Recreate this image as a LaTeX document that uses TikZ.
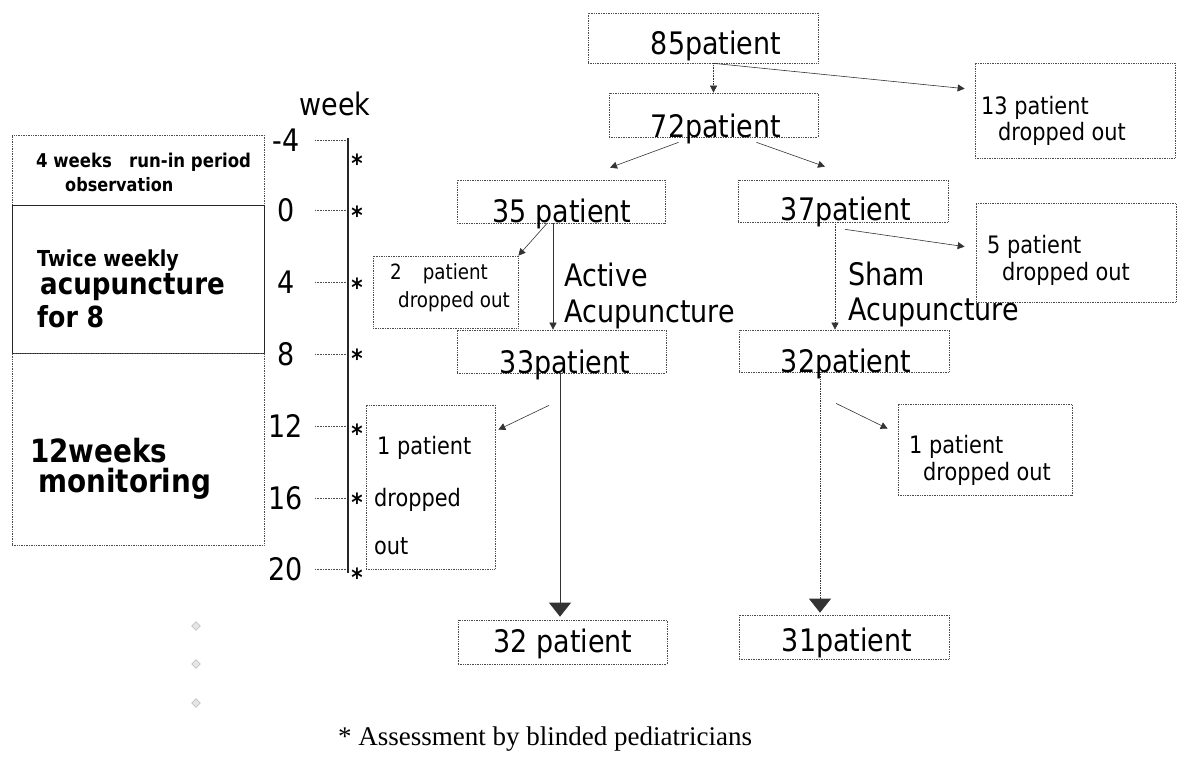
\documentclass[tikz,border=0pt]{standalone}
\usepackage{fontspec}
\setmainfont{DejaVu Sans}[FakeStretch=0.87]
\newfontfamily\notefont{Liberation Serif}
\usepackage{tikz}
\usetikzlibrary{shapes,arrows,arrows.meta,positioning,calc}
\newcommand{\fsz}[1]{\fontsize{#1}{#1}\selectfont}

\begin{document}
\begin{tikzpicture}[x=1pt,y=-1pt,
    pbox/.style={draw=black!70, densely dotted, line width=0.7pt, inner sep=0pt},
    txt/.style={inner sep=0pt, anchor=base},
    ltxt/.style={inner sep=0pt, anchor=base west},
    link/.style={draw=black!80, line width=0.6pt, -{Triangle[length=7pt,width=7pt]}},
    biglink/.style={draw=black!80, line width=0.7pt, -{Triangle[length=14pt,width=22pt]}},
    wtick/.style={draw=black!70, densely dotted, line width=0.6pt}]
    \useasboundingbox (0,0) rectangle (1185,757);

    % Phases on the left
    \node[pbox, minimum width=252pt, minimum height=70pt] (runin) at (138,170) {};
    \node[draw=black!85, line width=0.8pt, inner sep=0pt, minimum width=252pt, minimum height=148pt] (treat) at (138,279) {};
    \node[pbox, minimum width=252pt, minimum height=192pt] (monit) at (138,449) {};
    \node[ltxt, font=\fsz{19}\bfseries] (runin1) at (36,167) {4 weeks\ \ \ run-in period};
    \node[ltxt, font=\fsz{18.5}\bfseries] (runin2) at (65,191) {observation};
    \node[ltxt, font=\fsz{22}\bfseries] (treat1) at (37,266) {Twice weekly};
    \node[ltxt, font=\fsz{30}\bfseries] (treat2) at (40,294) {acupuncture};
    \node[ltxt, font=\fsz{29}\bfseries] (treat3) at (37,327) {for 8};
    \node[ltxt, font=\fsz{32}\bfseries] (monit1) at (30,462) {12weeks};
    \node[ltxt, font=\fsz{32}\bfseries] (monit2) at (38,492) {monitoring};

    % Week scale
    \node[txt, font=\fsz{31}] (week) at (335,116) {week};
    \foreach \w/\y in {-4/140, 0/210, 4/282, 8/354, 12/426, 16/498, 20/569} {
        \node[txt, font=\fsz{31}] (w\w) at (286,\y+11) {\w};
        \draw[wtick] (315,\y) -- (347,\y);
    }
    \draw[line width=2.2pt, black!85] (348,138) -- (348,573);
    \foreach \y [count=\i] in {158,210,282,353,428,497,572}
        \node[txt, font=\fsz{25}\bfseries] (star\i) at (357,\y+14) {*};

    % Patient flow
    \node[pbox, minimum width=230pt, minimum height=50pt] (n85) at (703,38) {};
    \node[txt, font=\fsz{31}] (l85) at (716,55) {85patient};
    \node[pbox, minimum width=209pt, minimum height=44pt] (n72) at (713.5,115) {};
    \node[txt, font=\fsz{31}] (l72) at (716,137) {72patient};
    \node[pbox, minimum width=208pt, minimum height=43pt] (n35) at (561,201.5) {};
    \node[txt, font=\fsz{31}] (l35) at (562,222) {35 patient};
    \node[pbox, minimum width=210pt, minimum height=42pt] (n37) at (843,201) {};
    \node[txt, font=\fsz{31}] (l37) at (846,220) {37patient};
    \node[pbox, minimum width=209pt, minimum height=43pt] (n33) at (561.5,351.5) {};
    \node[txt, font=\fsz{31}] (l33) at (565,373) {33patient};
    \node[pbox, minimum width=210pt, minimum height=42pt] (n32s) at (844,351) {};
    \node[txt, font=\fsz{31}] (l32s) at (846,372) {32patient};
    \node[pbox, minimum width=209pt, minimum height=44pt] (nf32) at (562.5,642) {};
    \node[txt, font=\fsz{31}] (lf32) at (563,652) {32 patient};
    \node[pbox, minimum width=210pt, minimum height=44pt] (nf31) at (844,637) {};
    \node[txt, font=\fsz{31}] (lf31) at (847,651) {31patient};

    % Arms
    \node[ltxt, font=\fsz{31}] (act1) at (564,286) {Active};
    \node[ltxt, font=\fsz{31}] (act2) at (564,322) {Acupuncture};
    \node[ltxt, font=\fsz{31}] (sham1) at (848,285) {Sham};
    \node[ltxt, font=\fsz{31}] (sham2) at (848,320) {Acupuncture};

    % Drop-outs
    \node[pbox, minimum width=200pt, minimum height=95pt] (d13) at (1075,110.5) {};
    \node[ltxt, font=\fsz{24}] (l13a) at (981,114) {13 patient};
    \node[ltxt, font=\fsz{24}] (l13b) at (998,140) {dropped out};
    \node[pbox, minimum width=200pt, minimum height=99pt] (d5) at (1076,252.5) {};
    \node[ltxt, font=\fsz{24}] (l5a) at (987,253) {5 patient};
    \node[ltxt, font=\fsz{24}] (l5b) at (1002,280) {dropped out};
    \node[pbox, minimum width=145pt, minimum height=72pt] (d2) at (445.5,292) {};
    \node[ltxt, font=\fsz{21}] (l2a) at (390,279) {2\hspace{21pt}patient};
    \node[ltxt, font=\fsz{21}] (l2b) at (398,307) {dropped out};
    \node[pbox, minimum width=129pt, minimum height=164pt] (d1l) at (430.5,487) {};
    \node[ltxt, font=\fsz{24}] (l1la) at (377,454) {1 patient};
    \node[ltxt, font=\fsz{24}] (l1lb) at (374,506) {dropped};
    \node[ltxt, font=\fsz{24}] (l1lc) at (374,554) {out};
    \node[pbox, minimum width=174pt, minimum height=91pt] (d1r) at (985,449.5) {};
    \node[ltxt, font=\fsz{24}] (l1ra) at (909,453) {1 patient};
    \node[ltxt, font=\fsz{24}] (l1rb) at (923,480) {dropped out};

    % Arrows
    \coordinate (c13) at ($(d13.north west)+(-10,26)$);
    \draw[link, densely dotted] (n85.south -| n72.north) -- (n72.north);
    \draw[link] (n85.south -| n72.north) -- (c13);
    \draw[link] ($(n72.south)+(-35,5)$) -- ($(n35.north)+(49,-12)$);
    \draw[link] ($(n72.south)+(43,5)$) -- ($(n37.north)+(-18,-13)$);
    \draw[link] ($(n35.south)+(-14,0)$) -- (d2.north east);
    \draw[link] ($(n35.south)+(-8,0)$) -- ($(n33.north)+(-8.5,0)$);
    \draw[link, densely dotted] ($(n37.south)+(-8,0)$) -- ($(n32s.north)+(-9,0)$);
    \draw[link] ($(n37.south)+(2,7)$) -- ($(d5.north west)+(-11,44)$);
    \draw[biglink] ($(n33.south)+(-1.5,0)$) -- ($(nf32.north)+(-2.5,-3)$);
    \draw[link] ($(n33.south)+(-12.5,32)$) -- ($(d1l.north east)+(3,25)$);
    \draw[biglink, densely dotted] ($(n32s.south)+(-24,0)$) -- ($(nf31.north)+(-24,-2)$);
    \draw[link] ($(n32s.south)+(-8,31)$) -- ($(d1r.north west)+(-10,25)$);

    % Bullets and note
    \foreach \y [count=\i] in {626,664,703}
        \node[diamond, draw=black!35, fill=black!10, minimum size=9pt, inner sep=0pt] (dm\i) at (196,\y) {};
    \node[txt, font=\notefont\fsz{27}] (note) at (545,745) {* Assessment by blinded pediatricians};
\end{tikzpicture}
\end{document}
